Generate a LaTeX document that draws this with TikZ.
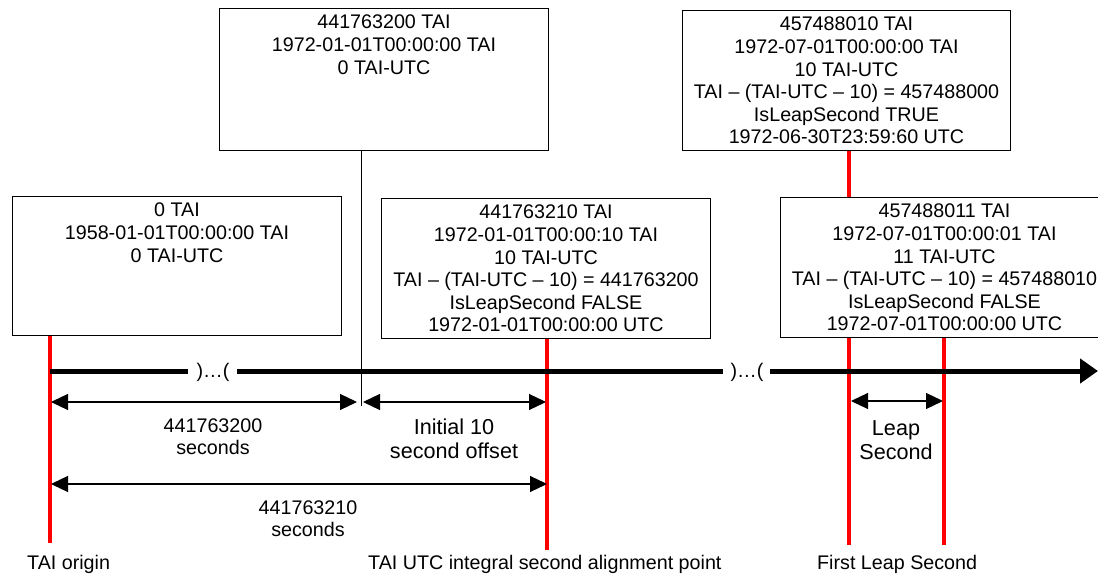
\documentclass[tikz,border=0pt]{standalone}
\usepackage{fontspec}
\setmainfont{Liberation Sans}
\usetikzlibrary{arrows.meta}
\tikzset{
  box/.style={draw=black, line width=1pt, fill=white, inner sep=0pt, anchor=north west},
  boxtext/.style={anchor=north, align=center, inner sep=0pt, yshift=-7pt,
    font=\fontsize{19.7pt}{22.6pt}\selectfont},
  lbl/.style={align=center, inner sep=0pt, font=\fontsize{19.7pt}{22pt}\selectfont},
  biglbl/.style={align=center, inner sep=0pt, font=\fontsize{21.6pt}{24pt}\selectfont},
  redline/.style={draw=red, line width=3.6pt},
  timeline/.style={line width=5pt},
  thinline/.style={line width=1pt},
  dim/.style={line width=1.2pt, {Triangle[length=17pt,width=16pt]}-{Triangle[length=17pt,width=16pt]}},
}
\begin{document}
\begin{tikzpicture}[x=1pt,y=-1pt]
\useasboundingbox (0,0) rectangle (1098,577);
\clip (0,0) rectangle (1098,577);

% boxes
\node[box, minimum width=329pt, minimum height=139pt] (bA) at (12,196) {};
\node[box, minimum width=329pt, minimum height=142pt] (bB) at (219,8) {};
\node[box, minimum width=329pt, minimum height=140pt] (bC) at (381,198) {};
\node[box, minimum width=328pt, minimum height=140pt] (bD) at (682,10) {};
\node[box, minimum width=328pt, minimum height=140pt] (bE) at (780,197) {};

\node[boxtext] (tA) at (bA.north) {0 TAI\\1958-01-01T00:00:00 TAI\\0 TAI-UTC};
\node[boxtext] (tB) at (bB.north) {441763200 TAI\\1972-01-01T00:00:00 TAI\\0 TAI-UTC};
\node[boxtext] (tC) at (bC.north) {441763210 TAI\\1972-01-01T00:00:10 TAI\\10 TAI-UTC\\TAI – (TAI-UTC – 10) = 441763200\\IsLeapSecond FALSE\\1972-01-01T00:00:00 UTC};
\node[boxtext] (tD) at (bD.north) {457488010 TAI\\1972-07-01T00:00:00 TAI\\10 TAI-UTC\\TAI – (TAI-UTC – 10) = 457488000\\IsLeapSecond TRUE\\1972-06-30T23:59:60 UTC};
\node[boxtext] (tE) at (bE.north) {457488011 TAI\\1972-07-01T00:00:01 TAI\\11 TAI-UTC\\TAI – (TAI-UTC – 10) = 457488010\\IsLeapSecond FALSE\\1972-07-01T00:00:00 UTC};

% coordinates
\coordinate (rO) at (50,543);
\coordinate (rU) at (547,550);
\coordinate (rL1) at (849,545);
\coordinate (rL2) at (944,545);
\coordinate (tick) at (361,406);

% red lines
\draw[redline] (bA.south -| rO) -- (rO);
\draw[redline] (bC.south -| rU) -- (rU);
\draw[redline] (bD.south -| rL1) -- (bE.north -| rL1);
\draw[redline] (bE.south -| rL1) -- (rL1);
\draw[redline] (bE.south -| rL2) -- (rL2);

% black tick from box B
\draw[thinline] (bB.south -| tick) -- (tick);

% timeline
\coordinate (t0) at (50,371);
\coordinate (g1a) at (188,371);
\coordinate (g1b) at (237,371);
\coordinate (g2a) at (723,371);
\coordinate (g2b) at (770,371);
\coordinate (tEnd) at (1098,371);
\draw[timeline] (t0) -- (g1a);
\draw[timeline] (g1b) -- (g2a);
\draw[timeline, -{Triangle[length=18pt,width=24pt]}] (g2b) -- (tEnd);
\node[lbl] (brk1) at (213,372) {)…(};
\node[lbl] (brk2) at (747,372) {)…(};

% dimension arrows
\coordinate (d1a) at (51,402);
\coordinate (d1b) at (357,402);
\coordinate (d2a) at (363,402);
\coordinate (d2b) at (546,402);
\coordinate (d3a) at (51,484);
\coordinate (d3b) at (547,484);
\coordinate (d4a) at (851,401);
\coordinate (d4b) at (943,401);
\draw[dim] (d1a) -- (d1b);
\draw[dim] (d2a) -- (d2b);
\draw[dim] (d3a) -- (d3b);
\draw[dim] (d4a) -- (d4b);

% labels
\node[lbl] (l1) at (213,437) {441763200\\seconds};
\node[biglbl] (l2) at (454,439) {Initial 10\\second offset};
\node[lbl] (l3) at (308,519) {441763210\\seconds};
\node[biglbl] (l4) at (896,440) {Leap\\Second};

\node[lbl, anchor=base west] (bl1) at (27,569) {TAI origin};
\node[lbl, anchor=base west] (bl2) at (368,569) {TAI UTC integral second alignment point};
\node[lbl, anchor=base west] (bl3) at (817,569) {First Leap Second};
\end{tikzpicture}
\end{document}
